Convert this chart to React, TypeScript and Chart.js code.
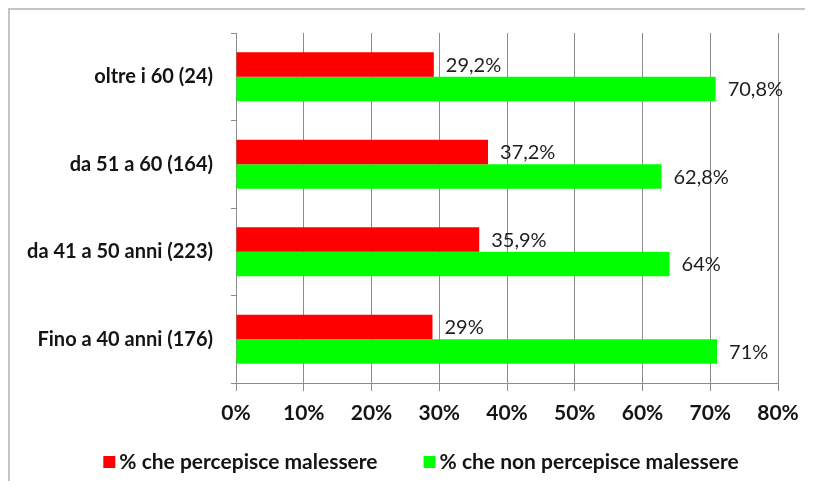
import React, { useEffect, useRef } from 'react';
import { Chart, registerables } from 'chart.js';

Chart.register(...registerables);

const categories = [
  'oltre i 60 (24)',
  'da 51 a 60 (164)',
  'da 41 a 50 anni (223)',
  'Fino a 40 anni (176)',
];
const seriesNames = ['% che percepisce malessere', '% che non percepisce malessere'];
const seriesColors = ['#ff0000', '#00ff00'];
const percepisce = [29.2, 37.2, 35.9, 29];
const nonPercepisce = [70.8, 62.8, 64, 71];
const xMin = 0;
const xMax = 80;
const xStep = 10;

const FONT = 'Lato, "Open Sans", sans-serif';
const TEXT = '#141414';

const valueLabels = {
  id: 'valueLabels',
  afterDatasetsDraw(chart: any) {
    const ctx = chart.ctx;
    ctx.save();
    ctx.font = `20px ${FONT}`;
    ctx.fillStyle = '#1e1e1e';
    ctx.textBaseline = 'middle';
    ctx.textAlign = 'left';
    chart.data.datasets.forEach((ds: any, i: number) => {
      const meta = chart.getDatasetMeta(i);
      meta.data.forEach((bar: any, j: number) => {
        const v = ds.data[j];
        ctx.fillText(String(v).replace('.', ',') + '%', bar.x + 12, bar.y + 1);
      });
    });
    ctx.restore();
  },
};

const bottomLegend = {
  id: 'bottomLegend',
  afterDraw(chart: any) {
    const ctx = chart.ctx;
    ctx.save();
    ctx.font = `bold 21px ${FONT}`;
    ctx.textBaseline = 'middle';
    ctx.textAlign = 'left';
    const box = 12;
    const gap = 4;
    const itemGap = 46;
    const items = chart.data.datasets.map((ds: any) => ({
      text: ds.label,
      color: ds.backgroundColor,
      w: box + gap + ctx.measureText(ds.label).width,
    }));
    const total = items.reduce((s: number, it: any) => s + it.w, 0) + itemGap * (items.length - 1);
    const centerX = 411;
    const y = chart.height - 26;
    let x = centerX - total / 2;
    items.forEach((it: any) => {
      ctx.fillStyle = it.color;
      ctx.fillRect(x, y - box / 2, box, box);
      ctx.fillStyle = TEXT;
      ctx.fillText(it.text, x + box + gap, y);
      x += it.w + itemGap;
    });
    ctx.restore();
  },
};

export default function App() {
  const ref = useRef<HTMLCanvasElement | null>(null);

  useEffect(() => {
    document.documentElement.style.overflow = 'hidden';
    document.body.style.overflow = 'hidden';
    let chart: Chart | null = null;
    let cancelled = false;
    const make = () => {
      if (cancelled || !ref.current) return;
      chart = new Chart(ref.current, {
        type: 'bar',
        data: {
          labels: categories,
          datasets: [
            {
              label: seriesNames[0],
              data: percepisce,
              backgroundColor: seriesColors[0],
              borderWidth: 0,
              barPercentage: 1,
              categoryPercentage: 0.56,
            },
            {
              label: seriesNames[1],
              data: nonPercepisce,
              backgroundColor: seriesColors[1],
              borderWidth: 0,
              barPercentage: 1,
              categoryPercentage: 0.56,
            },
          ],
        },
        options: {
          indexAxis: 'y',
          responsive: false,
          animation: false,
          layout: { padding: { top: 23, right: 35, left: 0, bottom: 60 } },
          scales: {
            x: {
              min: xMin,
              max: xMax,
              afterFit: (scale: any) => {
                scale.height = 45;
              },
              ticks: {
                stepSize: xStep,
                color: TEXT,
                font: { family: FONT, size: 21, weight: 'bold' },
                padding: 10,
                callback: (v: any) => v + '%',
              },
              grid: {
                color: '#8c8c8c',
                lineWidth: 1,
                tickLength: 8,
                drawTicks: true,
              },
              border: { color: '#8c8c8c', width: 1 },
            },
            y: {
              afterFit: (scale: any) => {
                scale.width = 226;
                scale.paddingTop = 0;
                scale.paddingBottom = 0;
              },
              ticks: {
                color: TEXT,
                font: { family: FONT, size: 20, weight: 'bold' },
                padding: 18,
              },
              grid: {
                drawOnChartArea: false,
                color: '#8c8c8c',
                tickLength: 5,
                offset: true,
              },
              border: { color: '#8c8c8c', width: 1 },
            },
          },
          plugins: {
            legend: { display: false },
            tooltip: { enabled: false },
          },
        },
        plugins: [valueLabels, bottomLegend],
      } as any);
    };
    const fonts: any = (document as any).fonts;
    if (fonts && fonts.load) {
      Promise.all([
        fonts.load(`20px ${FONT}`),
        fonts.load(`bold 20px ${FONT}`),
      ]).then(make, make);
    } else {
      make();
    }
    return () => {
      cancelled = true;
      if (chart) chart.destroy();
    };
  }, []);

  return (
    <div
      style={{
        width: 900,
        height: 481,
        marginBottom: -8,
        boxSizing: 'border-box',
        borderLeft: '2px solid #c4c4c4',
        borderTop: '2px solid #c4c4c4',
        borderBottom: '1px solid #ececec',
        background: '#fff',
        overflow: 'hidden',
      }}
    >
      <canvas ref={ref} width={803} height={478} style={{ display: 'block' }} />
    </div>
  );
}
